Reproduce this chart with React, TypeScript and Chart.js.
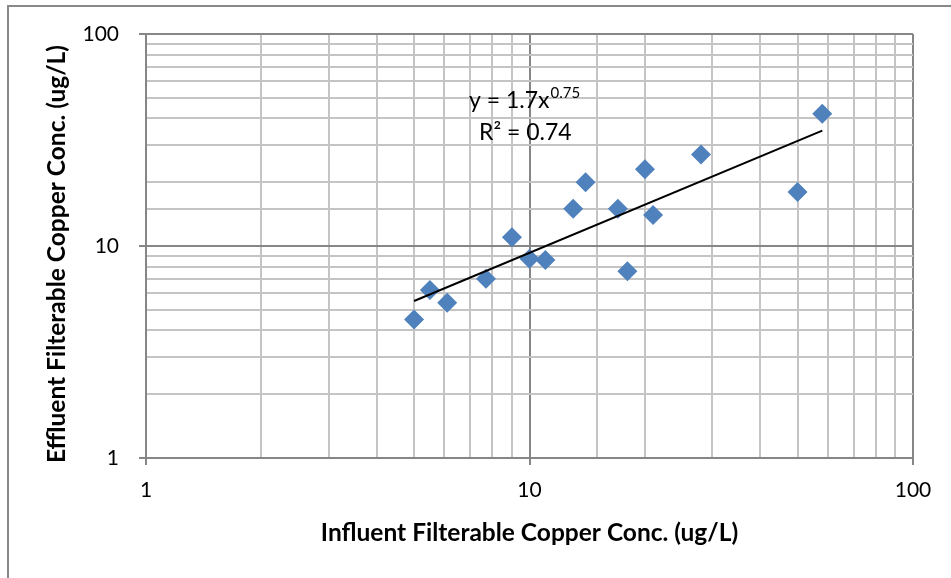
import React, { useEffect, useRef } from "react";
import { Chart, registerables } from "chart.js";

Chart.register(...registerables);

const influent: number[] = [5.0, 5.5, 6.1, 7.7, 9.0, 10.0, 11.0, 13.0, 14.0, 17.0, 18.0, 20.0, 21.0, 28.0, 50.0, 58.0];
const effluent: number[] = [4.5, 6.2, 5.4, 7.0, 11.0, 8.7, 8.6, 15.0, 20.0, 15.0, 7.6, 23.0, 14.0, 27.0, 18.0, 42.0];
const trendX: number[] = [5.0, 58.0];
const trendY: number[] = [5.5, 35.0];
const axisMin = 1;
const axisMax = 100;
const xTitle = "Influent Filterable Copper Conc. (ug/L)";
const yTitle = "Effluent Filterable Copper Conc. (ug/L)";
const eqMain = "y = 1.7x";
const eqExp = "0.75";
const r2Text = "R\u00B2 = 0.74";

const FONT = "Lato, 'Open Sans', sans-serif";

const isMajor = (v: number) => Math.abs(Math.log10(v) - Math.round(Math.log10(v))) < 1e-9;

export default function App() {
  const ref = useRef<HTMLCanvasElement | null>(null);
  useEffect(() => {
    if (!ref.current) return;
    const annot = {
      id: "annot",
      afterDatasetsDraw(chart: any) {
        const ctx = chart.ctx;
        const a = chart.chartArea;
        ctx.save();
        ctx.fillStyle = "#000";
        ctx.textBaseline = "alphabetic";
        ctx.textAlign = "left";
        ctx.font = `23px ${FONT}`;
        const x0 = a.left + 323;
        ctx.fillText(eqMain, x0, a.top + 74);
        const w = ctx.measureText(eqMain).width;
        ctx.font = `15px ${FONT}`;
        ctx.fillText(eqExp, x0 + w + 1, a.top + 64);
        ctx.font = `23px ${FONT}`;
        ctx.fillText(r2Text, a.left + 333, a.top + 106);
        ctx.restore();

        // y-axis title
        ctx.save();
        ctx.translate(57, (a.top + a.bottom) / 2 + 8);
        ctx.rotate(-Math.PI / 2);
        ctx.textAlign = "center";
        ctx.textBaseline = "middle";
        ctx.fillStyle = "#000";
        ctx.font = `bold 24.5px ${FONT}`;
        ctx.fillText(yTitle, 0, 0);
        ctx.restore();
      },
    };
    const gridColor = (c: any) => (c.tick && isMajor(c.tick.value) ? "#868686" : "#c4c4c4");
    const tickColor = (c: any) => (c.tick && isMajor(c.tick.value) ? "#868686" : "rgba(0,0,0,0)");
    const chart = new Chart(ref.current, {
      type: "scatter",
      data: {
        datasets: [
          {
            label: "Trend",
            type: "line",
            data: trendX.map((x, i) => ({ x, y: trendY[i] })),
            borderColor: "#000000",
            borderWidth: 2,
            pointRadius: 0,
            fill: false,
            order: 0,
          } as any,
          {
            label: "Data",
            data: influent.map((x, i) => ({ x, y: effluent[i] })),
            backgroundColor: "#4f81bd",
            borderColor: "#4f81bd",
            borderWidth: 0,
            pointStyle: "rectRot",
            pointRadius: 10,
            order: 1,
          },
        ],
      },
      options: {
        responsive: false,
        animation: false,
        layout: { padding: { left: 0, top: 34, right: 38, bottom: 0 } },
        plugins: { legend: { display: false }, tooltip: { enabled: false } },
        scales: {
          x: {
            type: "logarithmic",
            min: axisMin,
            max: axisMax,
            afterFit: (s: any) => { s.height = 120; },
            border: { color: "#868686", width: 2 },
            grid: { color: gridColor, tickColor: tickColor, tickLength: 7, lineWidth: 2 },
            ticks: {
              autoSkip: false,
              maxRotation: 0,
              padding: 13,
              color: "#000",
              font: { family: FONT, size: 21 },
              callback: (v: any) => (isMajor(Number(v)) ? String(Number(v)) : ""),
            },
            title: {
              display: true,
              text: xTitle,
              color: "#000",
              font: { family: FONT, size: 24.5, weight: "bold" },
              padding: { top: 0, bottom: 30 },
            },
          },
          y: {
            type: "logarithmic",
            min: axisMin,
            max: axisMax,
            afterFit: (s: any) => { s.width = 146; },
            border: { color: "#868686", width: 2 },
            grid: { color: gridColor, tickColor: tickColor, tickLength: 7, lineWidth: 2 },
            ticks: {
              autoSkip: false,
              padding: 20,
              color: "#000",
              font: { family: FONT, size: 21 },
              callback: (v: any) => (isMajor(Number(v)) ? String(Number(v)) : ""),
            },
            title: { display: false },
          },
        },
      },
      plugins: [annot],
    } as any);
    return () => chart.destroy();
  }, []);
  return (
    <div style={{ position: "absolute", left: 0, top: 0, width: 951, height: 578, overflow: "hidden", background: "#fff" }}>
      <div style={{ position: "absolute", left: 7, top: 5, width: 1000, height: 700, border: "2px solid #898989", boxSizing: "border-box" }} />
      <canvas ref={ref} width={951} height={578} style={{ position: "absolute", left: 0, top: 0 }} />
    </div>
  );
}
